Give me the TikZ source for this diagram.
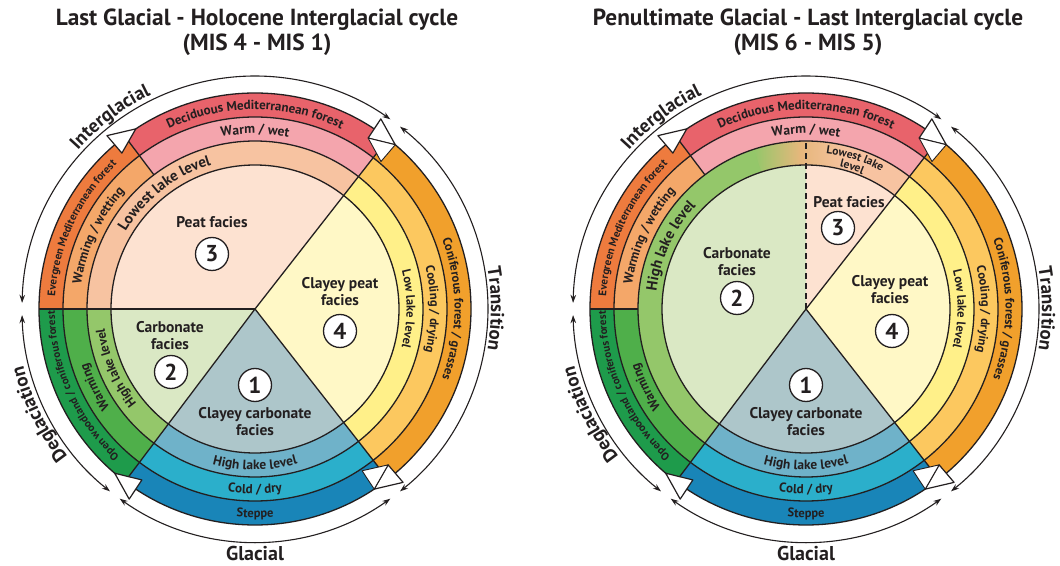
\documentclass[tikz,border=0pt]{standalone}
\usepackage{fontspec}
\setmainfont{PT Sans}
\usetikzlibrary{decorations.text,arrows.meta,calc}
\definecolor{deciduous}{HTML}{E8636B}
\definecolor{warmwet}{HTML}{F4A5AD}
\definecolor{lowestlake}{HTML}{F7C3A1}
\definecolor{peat}{HTML}{FDE2D1}
\definecolor{evergreen}{HTML}{EE7B3E}
\definecolor{warmwetting}{HTML}{F4A769}
\definecolor{conifer}{HTML}{F1A02C}
\definecolor{cooling}{HTML}{FCC85F}
\definecolor{lowlake}{HTML}{FFF089}
\definecolor{clayeypeat}{HTML}{FFF8C6}
\definecolor{steppe}{HTML}{1985B8}
\definecolor{colddry}{HTML}{2BAFCB}
\definecolor{highlakeblue}{HTML}{6FB2C9}
\definecolor{clayeycarb}{HTML}{ADC6CA}
\definecolor{openwood}{HTML}{1E9B4B}
\definecolor{warminggreen}{HTML}{4FAF4A}
\definecolor{highlakegreen}{HTML}{94C76A}
\definecolor{carbonate}{HTML}{DAE8C4}
\definecolor{tanmix}{HTML}{E6B77C}
\definecolor{ink}{HTML}{231F20}
% annular sector: colour, a1, a2, r1, r2
\newcommand\annsec[5]{\fill[#1] (#2:#4pt) arc[start angle=#2,end angle=#3,radius=#4pt] -- (#3:#5pt) arc[start angle=#3,end angle=#2,radius=#5pt] -- cycle;}
% pie sector: colour, a1, a2, r
\newcommand\piesec[4]{\fill[#1] (0,0) -- (#2:#4pt) arc[start angle=#2,end angle=#3,radius=#4pt] -- cycle;}
% text on arc: baseline radius, start angle, end angle, size, text
\newcommand\arctext[5]{\path[decorate,decoration={text along path,text align=center,text color=ink,text={|\fontsize{#4}{#4}\selectfont\bfseries|#5}}] (#2:#1pt) arc[start angle=#2,end angle=#3,radius=#1pt];}
% white arrowhead at boundary angle
\newcommand\wah[1]{\filldraw[fill=white,draw=ink,line width=1.2pt,line join=round] ({#1+3.5}:205pt) -- ({#1-3.5}:216pt) -- ({#1+3.5}:228pt) -- cycle;}
\newcommand\wsl[1]{\filldraw[fill=white,draw=ink,line width=0.9pt,line join=round] ({#1+3.5}:205pt) -- ({#1-3.5}:216pt) -- ({#1-3.5}:194pt) -- cycle;}
\newcommand\commonfills{%
 \annsec{evergreen}{127}{180}{192}{216}
 \annsec{deciduous}{52}{127}{192}{216}
 \annsec{conifer}{-52}{52}{192}{216}
 \annsec{steppe}{-127}{-52}{192}{216}
 \annsec{openwood}{180}{233}{192}{216}
 \annsec{warmwetting}{127}{180}{168}{192}
 \annsec{warmwet}{52}{127}{168}{192}
 \annsec{cooling}{-52}{52}{168}{192}
 \annsec{colddry}{-127}{-52}{168}{192}
 \annsec{warminggreen}{180}{233}{168}{192}
 \annsec{lowlake}{-52}{52}{144}{168}
 \annsec{highlakeblue}{-127}{-52}{144}{168}
 \piesec{clayeypeat}{-52}{52}{144}
 \piesec{clayeycarb}{-127}{-52}{144}}
\newcommand\commonlines{%
 \draw[bline] (0,0) circle[radius=216pt] (0,0) circle[radius=192pt] (0,0) circle[radius=168pt] (0,0) circle[radius=144pt];
 \draw[bline] (0,0) -- (52:216pt) (0,0) -- (-52:216pt) (0,0) -- (-127:216pt) (127:168pt) -- (127:216pt);}
\newcommand\commonlabels{%
 \arctext{199.5}{150}{30}{13}{Deciduous Mediterranean forest}
 \arctext{199.6}{55}{-55}{12.5}{Coniferous forest / grasses}
 \arctext{208.4}{-150}{-30}{12.5}{Steppe}
 \arctext{200.2}{238}{170}{11}{Open woodland / coniferous forest}
 \arctext{200.2}{189}{121}{11}{Evergreen Mediterranean forest}
 \arctext{175.3}{130}{50}{13.5}{Warm / wet}
 \arctext{175.6}{45}{-45}{12.5}{Cooling / drying}
 \arctext{184.5}{-130}{-50}{13}{Cold / dry}
 \arctext{175.5}{236}{176}{13}{Warming}
 \arctext{175.5}{189}{121}{13}{Warming / wetting}
 \arctext{151.6}{45}{-45}{12.5}{Low lake level}
 \arctext{160.7}{-135}{-45}{13.5}{High lake level}
 \wah{127}\wah{53}\wah{-53}\wah{-127}
 \wsl{53}\wsl{-53}
 \draw[cyc] (178.5:233pt) arc[start angle=178.5,end angle=54.5,radius=233pt];
 \draw[cyc] (51.5:233pt) arc[start angle=51.5,end angle=-51.5,radius=233pt];
 \draw[cyc] (-54.5:233pt) arc[start angle=-54.5,end angle=-125.5,radius=233pt];
 \draw[cyc] (-128.5:233pt) arc[start angle=-128.5,end angle=-178.5,radius=233pt];
 \arctext{238}{170}{84}{19}{Interglacial}
 \arctext{236}{45}{-45}{19}{Transition}
 \arctext{238.5}{-111}{-197}{19}{Deglaciation}}
\begin{document}
\begin{tikzpicture}[x=1pt,y=1pt,
  facies/.style={font=\fontsize{15.5}{17}\selectfont\bfseries,align=center,text=ink,inner sep=0pt},
  numc/.style={circle,draw=ink,fill=white,line width=1.3pt,minimum size=33pt,inner sep=0pt,text=ink,font=\fontsize{23}{23}\selectfont\bfseries},
  bline/.style={line width=1.3pt,draw=ink},
  cyc/.style={line width=1.1pt,draw=ink,{Stealth[length=8pt,width=5.5pt]}-{Stealth[length=8pt,width=5.5pt]}},
  ttl/.style={font=\fontsize{23.3}{25}\selectfont\bfseries,text=ink},
  big/.style={font=\fontsize{20}{20}\selectfont\bfseries,text=ink}]
\useasboundingbox (0,0) rectangle (1060,565);
\fill[white] (0,0) rectangle (1060,565);
% ---------------- left circle
\begin{scope}[shift={(255,256)}]
 \commonfills
 \annsec{lowestlake}{52}{180}{144}{168}
 \annsec{highlakegreen}{180}{233}{144}{168}
 \piesec{peat}{52}{180}{144}
 \piesec{carbonate}{180}{233}{144}
 \commonlines
 \draw[bline] (0,0) -- (180:216pt);
 \commonlabels
 \arctext{150.7}{170}{86}{15}{Lowest lake level}
 \arctext{151.5}{240}{166}{13}{High lake level}
\end{scope}
% ---------------- right circle
\begin{scope}[shift={(806,256)}]
 \commonfills
 \annsec{lowestlake}{52}{90}{144}{168}
 \annsec{highlakegreen}{90}{233}{144}{168}
 \shade[left color=highlakegreen,right color=lowestlake,middle color=tanmix] (108:144pt) arc[start angle=108,end angle=76,radius=144pt] -- (76:168pt) arc[start angle=76,end angle=108,radius=168pt] -- cycle;
 \piesec{peat}{52}{90}{144}
 \piesec{carbonate}{90}{233}{144}
 \commonlines
 \draw[bline] (180:168pt) -- (180:216pt);
 \draw[line width=1.3pt,draw=ink,dash pattern=on 6pt off 4pt] (0,0) -- (90:168pt);
 \commonlabels
 \arctext{150.7}{190}{120}{15}{High lake level}
 \arctext{157}{100}{44}{11.5}{Lowest lake}
 \arctext{146}{100}{44}{11.5}{level}
\end{scope}
% ---------------- facies labels
\node[facies] (peatL) at (212,343) {Peat facies};
\node[numc] (n3L) at (212,311) {3};
\node[facies] (carbL) at (170,229) {Carbonate\\facies};
\node[numc] (n2L) at (171,193) {2};
\node[numc] (n1L) at (255,180) {1};
\node[facies] (cclL) at (255,143) {Clayey carbonate\\facies};
\node[facies] (cpL) at (340,273) {Clayey peat\\facies};
\node[numc] (n4L) at (340,234) {4};
\node[facies] (peatR) at (849,363) {Peat facies};
\node[numc] (n3R) at (838,337) {3};
\node[facies] (carbR) at (737,303) {Carbonate\\facies};
\node[numc] (n2R) at (737,267) {2};
\node[numc] (n1R) at (806,180) {1};
\node[facies] (cclR) at (806,143) {Clayey carbonate\\facies};
\node[facies] (cpR) at (890,275) {Clayey peat\\facies};
\node[numc] (n4R) at (892,234) {4};
% ---------------- titles and bottom labels
\node[ttl] (t1a) at (257,545) {Last Glacial - Holocene Interglacial cycle};
\node[ttl] (t1b) at (257,520) {(MIS 4 - MIS 1)};
\node[ttl] (t2a) at (808,545) {Penultimate Glacial - Last Interglacial cycle};
\node[ttl] (t2b) at (808,520) {(MIS 6 - MIS 5)};
\node[big] (glL) at (255,12) {Glacial};
\node[big] (glR) at (806,12) {Glacial};
\end{tikzpicture}
\end{document}
